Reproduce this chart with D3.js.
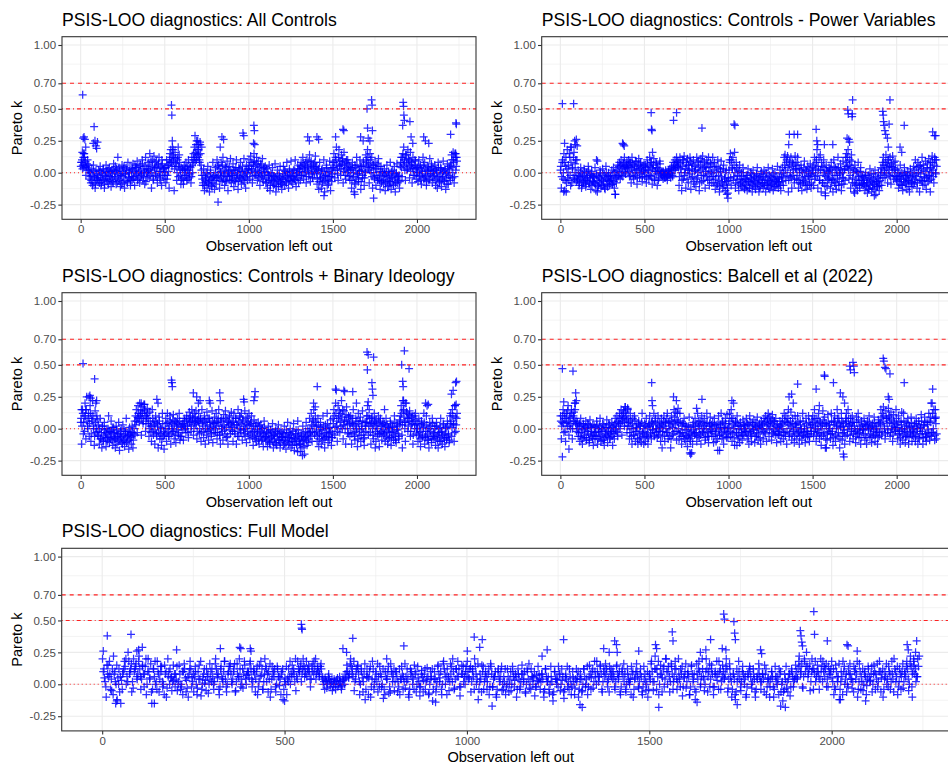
<!DOCTYPE html>
<html><head><meta charset="utf-8">
<script src="https://cdn.jsdelivr.net/npm/d3@7"></script>
<style>
body{margin:0;background:#fff}
svg{display:block}
text{font-family:"Liberation Sans",Arial,Helvetica,sans-serif}
</style>
</head><body>
<svg id="chart" width="948" height="768"></svg>
<script>
// ---------- axis / tick data ----------
const xTicks = [0, 500, 1000, 1500, 2000];
const xTickLabels = ["0", "500", "1000", "1500", "2000"];
const xMinor = [250, 750, 1250, 1750, 2250];
const yTicks = [-0.25, 0, 0.25, 0.5, 0.7, 1.0];
const yTickLabels = ["-0.25", "0.00", "0.25", "0.50", "0.70", "1.00"];
const yMinor = [-0.125, 0.125, 0.375, 0.6, 0.85];
const refValues = [0.7, 0.5, 0];
const xDomain = [-111, 2351];
const yDomain = [-0.365, 1.065];
const obsStep = 5;   // band series hold every 5th observation
const obsStartA = 1; // series A: observations 1, 6, 11, ...
const obsStartB = 3; // series B: observations 3, 8, 13, ...
const obsStartC = 5; // series C: observations 5, 10, 15, ...

const titles = [
  "PSIS-LOO diagnostics: All Controls",
  "PSIS-LOO diagnostics: Controls - Power Variables",
  "PSIS-LOO diagnostics: Controls + Binary Ideology",
  "PSIS-LOO diagnostics: Balcell et al (2022)",
  "PSIS-LOO diagnostics: Full Model"
];

// ---------- Pareto k band values (x100) ----------
const kAllControlsA = [
 5,8,3,12,15,6,-2,4,10,2,-5,0,-8,3,-10,6,-3,-12,2,-6,
 -4,2,-8,5,-10,0,-6,3,-12,-2,6,-5,1,-9,4,-3,-11,2,-7,7,
 -3,5,-9,1,12,-6,2,-11,-2,6,-8,3,-12,-1,4,-7,8,-4,0,-10,
 2,-6,7,-3,-10,4,-1,9,-5,1,-8,6,-2,10,-6,3,-9,12,0,-4,
 8,-3,15,2,-12,10,-6,13,4,-2,9,-8,6,12,-4,1,-10,7,3,-5,
 4,-8,10,-2,6,-12,15,18,8,20,12,-14,16,5,-6,10,-3,14,2,-9,
 -5,3,-9,6,-2,8,-6,2,10,-4,5,-8,12,0,15,20,8,22,14,25,
 18,10,22,6,-2,-10,3,-14,-6,0,-12,5,-8,-15,2,-5,-11,8,-3,-13,
 4,-9,10,-4,6,-12,0,8,-7,12,-2,-10,5,-6,9,-14,1,-3,11,-8,
 -5,7,-11,2,-7,10,-2,-13,4,-4,8,-9,1,-6,11,-3,-12,6,-1,3,
 10,-5,13,2,-8,8,15,-2,5,12,-6,9,0,-10,7,-3,11,-7,4,1,
 -8,3,-12,-2,6,-14,0,-6,4,-10,-3,7,-15,-5,2,-11,-1,5,-9,-13,
 -4,5,-10,1,-7,8,-2,-12,3,-6,9,-3,-9,2,-5,10,-11,0,6,-8,
 3,-6,8,-2,12,-5,6,1,-8,10,4,-3,14,-7,9,0,-4,7,-1,13,
 5,-9,2,-13,8,-4,-12,3,-7,10,-15,-2,6,-10,1,-6,9,-14,-3,4,
 8,15,-4,12,20,2,-6,18,6,-2,14,9,-8,16,3,-5,10,0,7,-3,
 -6,4,-12,8,-3,-15,6,-9,12,-1,-7,2,10,-13,5,-4,9,-10,1,14,
 10,18,4,-8,15,0,12,-12,6,-4,8,-10,3,-6,11,-2,-13,5,-7,1,
 -9,3,-14,-2,6,-11,1,-7,8,-13,-4,2,-10,5,-15,-1,7,-8,-3,-12,
 5,12,-3,15,20,8,-6,14,2,18,10,-4,16,6,-8,12,3,-2,9,-5,
 4,-7,10,-2,6,-9,1,12,-5,8,-3,-10,5,2,-6,11,-1,7,-8,3,
 -5,6,-10,2,-12,8,-3,-7,4,-11,0,9,-6,3,-13,-1,7,-9,5,-4,
 6,14,-4,10,-8,15,2,12
];
const kAllControlsB = [
 8,10,6,4,12,9,5,7,2,6,0,-3,-6,-2,-8,1,-4,-9,-1,-5,
 -2,-6,1,-4,-8,-1,2,-5,-9,-3,0,-7,3,-2,-6,1,-5,-1,-8,2,
 0,-4,3,-7,-1,4,-5,-2,-9,1,-3,5,-6,-1,2,-8,0,-4,3,-6,
 -3,3,-5,1,6,-2,4,-6,0,5,-4,2,-1,7,-3,0,5,-7,3,1,
 2,6,-2,9,0,5,-5,3,8,-1,4,-3,7,1,-6,5,10,-2,3,0,
 -2,4,-5,6,1,10,8,12,5,14,9,3,11,7,0,12,5,8,-2,4,
 -4,2,-6,0,3,-2,5,-5,2,-1,4,-3,6,8,10,12,16,10,18,12,
 14,8,15,2,-5,-8,-2,-10,-4,-7,-1,-9,-3,-6,0,-10,-4,-8,-2,-6,
 0,-4,5,-2,3,-6,1,-3,6,-5,2,-1,-7,4,-3,0,5,-6,2,-2,
 -2,2,-6,-1,4,-4,0,-7,3,-3,1,-5,5,-2,-8,2,-4,0,-6,3,
 5,0,8,3,-3,6,9,1,-2,7,2,-4,4,-1,6,0,-5,3,-2,5,
 -4,-8,0,-6,-2,-10,-5,-1,-7,-3,-9,-4,-11,-2,-6,-8,-3,-7,-5,-9,
 -1,-5,2,-3,-8,0,-4,-6,1,-2,-7,0,-3,-5,2,-6,-1,-4,3,-2,
 1,5,-2,4,7,0,3,8,-3,5,2,9,-1,6,3,-4,5,1,8,4,
 0,-5,3,-7,-1,-4,2,-8,-3,1,-6,-2,4,-5,-9,0,-3,3,-7,-1,
 4,8,2,10,6,-1,12,5,9,3,7,11,1,6,-2,8,4,10,2,5,
 -2,2,-6,3,0,-8,4,-4,6,-1,-5,1,5,-7,2,-2,6,-4,0,8,
 5,12,7,2,10,4,-3,6,0,-5,3,-2,7,-4,5,-6,1,-8,0,-3,
 -5,-1,-8,0,-6,-3,-10,-2,-7,1,-4,-9,-1,-5,-8,0,-3,-6,-2,-7,
 8,4,12,6,10,2,14,7,3,11,5,9,1,8,4,-2,6,10,3,0,
 0,5,-3,4,-6,2,-1,6,-4,3,-2,-7,1,4,-5,2,-1,5,-3,1,
 -2,2,-6,0,-4,4,-8,-1,3,-5,-3,1,-7,2,-4,-9,0,-2,3,-6,
 4,10,0,8,-3,12,5,9
];
const highAllControls = [
 [12,0.61],[15,0.27],[20,0.28],[25,0.26],[10,0.16],[18,0.15],[30,0.2],
 [80,0.36],[75,0.23],[85,0.25],[90,0.21],[95,0.19],[100,0.24],
 [540,0.53],[542,0.45],[545,0.25],[550,0.18],[580,0.2],
 [680,0.29],[690,0.25],[700,0.22],[710,0.24],[720,0.2],
 [817,-0.23],[830,0.2],[840,0.28],[850,0.26],[965,0.31],[970,0.29],
 [1030,0.37],[1033,0.33],[1028,0.23],[1035,0.22],
 [1350,0.28],[1360,0.25],[1405,0.28],[1415,0.26],[1447,-0.18],
 [1516,0.28],[1560,0.34],[1565,0.33],[1630,-0.17],[1665,0.28],[1680,0.25],
 [1703,0.5],[1706,0.35],[1730,0.57],[1733,0.53],[1735,0.33],[1710,0.27],[1720,0.25],[1742,-0.2],
 [1918,0.55],[1920,0.52],[1922,0.45],[1925,0.41],[1915,0.37],[1958,0.4],[1965,0.28],[1975,0.23],
 [2040,0.28],[2050,0.25],[2070,0.23],[2200,0.3],[2232,0.39],[2234,0.38],[2215,0.16],[2230,0.15]
];

const kPowerVarsA = [
 2,-12,8,-5,15,-14,5,-8,18,0,-6,12,-10,20,3,-4,16,-2,10,-7,
 -5,2,-10,-3,4,-12,-1,-8,3,-6,-11,0,-4,5,-9,-2,-13,1,-7,-3,
 -8,4,-14,-2,9,-10,-4,2,-12,-6,3,-9,-1,-13,5,-5,-11,0,-7,-3,
 -6,2,-9,4,-12,-17,1,-4,6,-2,8,-5,10,3,-3,7,12,0,5,9,
 4,10,-3,8,-8,12,2,-5,6,-2,9,-9,3,11,-4,7,0,-7,5,1,
 -3,6,-8,10,2,-5,12,-2,8,-9,4,11,-6,1,7,-10,3,-4,9,-1,
 -2,1,-5,0,-4,2,-3,-6,1,-1,3,-4,5,-2,8,2,10,4,12,6,
 8,-10,12,3,-14,10,-5,13,0,-12,6,11,-8,2,12,-13,7,-3,10,-9,
 5,-11,12,-4,9,-14,2,11,-7,13,-2,8,-12,4,10,-6,12,-10,1,7,
 -8,12,-3,8,-13,5,-10,10,-2,-15,3,9,-7,-12,6,-4,-14,2,-9,-16,
 -6,10,15,-10,4,12,-3,16,-12,8,-5,2,-14,6,-8,0,-11,4,-6,-13,
 -9,-2,-14,3,-7,-12,0,-5,-15,2,-10,-4,-13,-1,4,-8,-15,-3,-11,1,
 -4,-12,2,-8,-15,-1,-10,4,-6,-13,-3,-9,3,-14,-5,0,-11,-7,5,-12,
 -8,2,-14,-4,4,-10,12,14,-6,10,13,-15,6,-3,12,-12,8,2,-8,13,
 8,-5,12,-12,3,-8,6,-14,0,-6,9,-10,2,-13,5,-3,-9,7,-12,-1,
 4,-10,12,-3,8,18,-12,2,-6,14,-15,5,-8,10,-2,-16,6,-11,1,-5,
 2,-12,8,-5,-15,10,-8,4,-13,-2,12,-10,0,7,-14,-4,9,-9,3,12,
 15,5,18,-5,10,-12,14,-8,3,-15,6,-10,1,-14,8,-6,-12,4,-9,-3,
 -10,-4,-14,0,-8,-16,-2,-12,3,-6,-15,-9,-1,-13,2,-17,-7,-11,0,-14,
 -6,4,-10,8,12,0,-4,14,6,-8,10,-2,12,-9,5,13,-5,2,9,-3,
 -7,2,-12,-3,6,-10,0,-14,-5,4,-9,-2,-13,1,-6,-15,3,-8,-11,-1,
 5,-8,10,-3,-12,8,0,-15,6,-6,12,-10,2,-4,9,-13,4,-7,11,-2,
 8,-5,13,2,-8,12,0,10
];
const kPowerVarsB = [
 5,-3,10,0,8,-6,12,3,-4,6,15,-2,8,-8,4,12,-5,7,0,10,
 -6,-2,-8,0,-4,-10,-3,-7,1,-5,-9,-2,-6,2,-8,-4,-1,-10,-3,-7,
 -4,-9,-1,-6,-11,-3,-8,0,-5,-10,-2,-7,-12,-4,0,-9,-3,-6,-10,-2,
 -5,-9,-2,-7,0,-4,-8,2,-3,5,0,6,-2,4,8,1,5,-1,6,3,
 6,1,8,-2,4,7,-3,5,0,9,2,-4,6,3,-1,8,4,-3,2,6,
 0,4,-4,7,2,-2,5,8,-3,3,6,-5,1,8,-1,4,-6,2,7,0,
 0,-3,1,-2,-4,0,-1,-3,2,-2,0,-1,3,-3,4,6,2,8,5,9,
 4,-3,7,0,-6,5,10,-2,3,8,-5,2,6,-1,9,-4,3,6,-7,1,
 2,-5,8,0,4,-8,6,-2,9,3,-6,5,1,-3,7,-1,4,-5,8,0,
 -3,5,-8,2,-5,0,-9,4,-6,-11,1,-3,-8,3,-10,-5,0,-7,-12,-4,
 2,8,-4,10,3,-6,6,0,-8,4,-2,-9,1,-5,-10,-3,-7,0,-12,-5,
 -5,-10,-2,-7,-12,-4,-8,-1,-9,-6,-3,-11,-7,-2,-9,-5,-12,-6,-1,-8,
 -8,-3,-10,-5,0,-9,-6,-12,-2,-7,-10,-4,-8,-1,-11,-6,-3,-9,-5,-7,
 -4,-10,-1,-7,-3,0,6,2,8,-2,4,-6,9,0,-4,5,-2,7,-5,3,
 3,-2,6,-6,0,-9,2,-4,-8,4,-3,-7,1,-10,-2,3,-5,-1,-8,2,
 0,6,-5,3,10,-2,5,12,-6,2,8,-8,0,4,-10,-3,2,-6,-1,4,
 -4,3,-8,0,-6,5,-2,-10,2,-5,4,-7,-1,3,-9,0,-4,2,-6,5,
 8,12,2,6,-2,4,9,-4,0,-8,2,-5,-9,0,-3,-10,1,-6,-2,-8,
 -6,-9,-2,-11,-5,-8,-13,-4,-10,-1,-7,-12,-5,-9,-3,-8,-11,-4,-7,-10,
 -2,0,3,-4,6,2,8,-1,4,10,2,5,-3,7,0,4,8,-2,3,-5,
 -3,-6,0,-9,-2,-5,-10,-1,-7,0,-4,-8,-2,-6,-11,-3,0,-7,-4,-9,
 -2,2,-5,4,-8,0,5,-6,-1,3,-7,6,-3,-9,1,-4,7,-2,-6,3,
 4,0,8,-3,6,10,-1,5
];
const highPowerVars = [
 [12,0.54],[79,0.54],[25,0.23],[85,0.25],[90,0.22],[95,0.26],[100,0.21],[60,0.2],[20,-0.15],[35,-0.15],
 [220,-0.15],[215,0.1],[327,-0.17],[370,0.23],[375,0.22],[380,0.21],
 [540,0.47],[542,0.34],[545,0.33],[548,0.16],[673,0.41],[691,0.47],[842,0.35],
 [996,-0.2],[990,-0.17],[1033,0.38],[1038,0.37],[1362,0.3],[1358,0.22],[1411,0.3],[1390,0.3],
 [1521,0.34],[1525,0.25],[1530,0.22],[1570,0.22],[1576,-0.18],[1620,0.22],
 [1709,0.49],[1712,0.46],[1738,0.57],[1735,0.44],[1736,0.46],[1705,0.27],[1715,0.26],[1720,0.24],[1750,-0.16],
 [1867,-0.18],[1917,0.48],[1920,0.45],[1922,0.4],[1925,0.37],[1930,0.33],[1935,0.3],[1945,0.27],[1950,0.2],
 [1960,0.57],[1955,0.38],[2020,0.2],[2030,0.16],[2045,0.37],[2214,0.32],[2225,0.29],[2232,0.29],[2200,-0.15]
];

const kBinaryIdeoA = [
 5,-12,15,-4,10,20,-8,25,2,12,-6,18,-10,8,22,0,-13,14,-3,10,
 -5,3,-12,8,-8,-15,2,-10,5,-3,-14,0,-7,10,-11,-2,6,-9,-13,1,
 -8,-15,2,-12,-4,5,-17,-6,0,-11,3,-9,-14,-2,8,-10,-5,-16,1,-7,
 -12,2,-15,-4,6,10,15,-3,18,8,20,12,-5,17,4,19,14,-2,10,16,
 8,-6,13,2,-10,15,-2,6,-12,10,-4,4,-15,9,-8,1,-13,12,-6,-16,
 -4,8,-10,12,0,-6,10,-12,4,-2,11,-8,6,-11,2,8,-5,12,-9,3,
 -6,4,-9,8,0,-3,10,2,-7,13,6,-2,15,9,-5,12,3,14,-8,7,
 12,-4,8,-10,15,2,-7,10,-12,5,13,-2,-9,8,0,-6,14,-11,4,9,
 -3,12,-8,5,15,-5,-12,8,2,-9,11,-1,14,-7,6,-12,3,10,-4,13,
 5,-10,12,-2,8,-12,3,15,-6,10,-1,12,-9,6,-4,14,0,-11,9,-5,
 12,-8,4,10,-3,-13,7,-6,2,-10,-2,5,-12,-4,3,-9,0,-14,6,-7,
 -10,-3,-14,2,-8,-12,-1,-6,4,-15,-5,-11,0,-13,-4,3,-9,-15,-2,-7,
 -6,-13,2,-9,-16,-3,5,-12,-7,0,-15,-4,-10,4,-17,-8,-1,-13,6,-5,
 -12,-18,-4,-15,2,-9,-20,-6,5,-13,0,-8,8,-3,12,-10,6,15,-5,10,
 2,-10,8,-14,-4,5,-12,-1,10,-8,-15,3,-6,12,-11,0,-3,7,-13,-7,
 8,15,-5,20,2,-10,18,10,-3,12,22,0,-8,14,6,-12,17,3,-4,9,
 -6,10,-12,4,15,-3,-9,8,0,-14,12,-5,6,-10,2,14,-8,-13,5,-2,
 10,18,-5,15,4,-12,8,0,-8,12,5,-10,2,-4,10,-14,6,-2,-9,3,
 -5,4,-10,8,-2,-12,1,-7,6,-13,-3,2,-9,10,-6,-11,4,-1,-8,7,
 10,18,-5,22,15,5,-10,20,12,-2,8,14,-6,3,10,-12,6,0,12,-4,
 4,-10,8,-3,-14,6,-7,2,12,-12,-5,10,-9,0,-15,5,-2,-11,8,-6,
 -8,2,-13,5,-5,-15,0,-10,8,-3,-12,4,-7,-14,1,-9,6,-4,-11,10,
 12,-6,15,3,-10,18,-2,8
];
const kBinaryIdeoB = [
 8,2,12,5,-2,10,15,6,0,8,4,12,-4,6,10,2,-6,5,0,7,
 -2,-6,0,-8,-3,2,-9,-5,-1,-7,-4,-10,0,-6,-2,-8,-3,1,-7,-4,
 -3,-8,-1,-6,-10,-4,-9,-2,-7,-12,-5,-1,-8,-4,-11,-6,-2,-9,-5,-3,
 -6,-3,-9,0,-5,3,6,9,12,5,10,14,8,12,6,15,10,4,8,12,
 4,0,6,-3,2,8,-5,3,-1,5,-6,2,-3,6,-4,0,-8,4,-2,-5,
 0,4,-3,5,-6,2,6,-4,0,7,-2,3,-5,5,-1,4,-3,6,-6,1,
 2,-1,4,6,0,8,3,-3,7,5,10,2,6,8,0,5,9,4,-2,6,
 5,0,8,-3,4,6,-2,7,0,-5,3,8,-1,5,2,-4,6,1,-3,4,
 0,5,-3,8,2,-5,6,0,-2,7,3,-4,8,1,-6,5,9,-1,4,2,
 -2,6,1,-4,8,3,-6,5,0,9,-3,4,7,-1,2,-6,8,3,-2,5,
 3,-4,6,0,-7,2,-2,-8,4,-5,-1,-9,2,-6,-3,0,-8,-4,1,-6,
 -6,-2,-9,-4,-11,-1,-7,-3,-10,-5,-8,-2,-12,-6,-1,-9,-4,-11,-7,-3,
 -9,-4,-12,-6,-1,-10,-7,-3,-11,-5,-8,-13,-2,-7,-10,-4,-12,-6,-1,-9,
 -8,-12,-6,-10,-3,-14,-7,-2,-9,-5,-11,-4,0,-6,3,-2,7,2,-3,5,
 -2,-6,3,-8,-1,1,-5,-9,2,-4,-7,0,-3,4,-6,-9,1,-2,-7,-4,
 4,10,1,12,6,-2,8,14,5,2,9,15,3,7,0,11,6,-3,10,4,
 0,5,-4,8,2,-6,3,-2,6,-8,4,-1,9,-5,0,6,-3,-7,2,5,
 5,10,2,8,-3,4,9,-5,3,6,-2,7,0,-6,4,-4,8,2,-3,5,
 -1,-4,2,-6,3,-8,0,-3,4,-7,1,-5,-2,5,-9,-1,2,-4,-6,3,
 6,12,3,14,9,0,5,13,8,2,11,6,-2,9,4,-5,10,3,7,0,
 0,-5,3,-8,-2,4,-6,1,5,-7,-2,3,-4,-9,0,-6,2,-8,4,-3,
 -4,0,-7,2,-9,-3,-6,1,-10,-2,-5,3,-8,-4,0,-7,2,-5,-9,4,
 6,1,10,4,-3,9,3,12
];
const highBinaryIdeo = [
 [14,0.51],[83,0.39],[50,0.25],[55,0.26],[60,0.24],[5,0.15],[30,0.15],[90,0.2],[95,0.22],
 [360,0.2],[380,0.19],[453,0.23],[460,0.2],[540,0.38],[543,0.36],[545,0.33],
 [670,0.28],[690,0.25],[700,0.2],[710,0.22],[765,0.22],[770,0.2],[827,0.28],[830,0.22],
 [969,0.23],[972,0.21],[1037,0.29],[1035,0.25],[1030,0.22],[1319,-0.21],[1290,-0.18],
 [1407,0.33],[1385,0.2],[1395,0.17],[1516,0.31],[1520,0.3],[1565,0.3],[1570,0.29],[1618,0.29],[1640,0.2],
 [1703,0.6],[1710,0.58],[1742,0.56],[1705,0.46],[1732,0.36],[1735,0.31],[1738,0.26],[1710,0.21],[1752,-0.15],
 [1807,0.15],[1925,0.61],[1909,0.5],[1953,0.47],[1915,0.37],[1918,0.33],[1920,0.22],[1930,0.2],[1913,-0.15],
 [2051,0.2],[2067,0.19],[2060,0.18],[2205,0.27],[2215,0.3],[2230,0.36],[2235,0.37],[2225,0.18],[2233,0.19]
];

const kBalcellA = [
 10,-8,5,15,-3,8,-10,12,2,18,-5,10,0,15,-8,6,13,20,4,-2,
 5,-6,2,-10,8,-3,-12,4,-7,0,6,-9,-2,3,-11,7,-5,1,-8,-13,
 2,-8,-3,6,-12,0,-6,8,-10,-2,4,-9,-13,1,-5,7,-11,-3,3,-7,
 -4,5,-13,2,-8,8,-2,10,-6,4,12,0,15,-5,8,14,2,17,10,-3,
 15,5,-8,12,0,-12,8,-5,10,-10,3,-2,-12,6,-8,2,-11,12,-4,-12,
 4,-10,8,-6,-12,2,10,-3,-8,6,-1,12,-5,8,0,-7,10,-2,5,-10,
 8,-6,2,10,-10,5,-3,12,-8,0,6,-15,10,-5,4,15,-2,13,-9,12,
 6,-8,12,-3,-12,4,-6,8,-1,-10,2,-14,-5,9,-8,1,-19,-12,5,-3,
 8,-4,-10,12,2,-7,6,-12,10,-3,0,8,-9,4,12,-6,-11,2,9,-2,
 -6,5,-11,8,-2,-10,3,-17,10,-5,1,12,-8,6,-12,0,8,-4,11,-7,
 4,12,-6,15,-10,8,0,-13,6,-3,10,-8,2,-11,5,-1,-9,7,-5,3,
 -2,8,-8,3,-12,10,-4,-10,5,-1,7,-11,2,-6,9,-9,0,4,-12,6,
 0,-8,8,-3,10,-10,4,12,-6,9,2,-9,11,-4,6,-2,8,-11,3,-5,
 -5,6,-10,2,8,-8,12,-3,10,-12,5,15,-6,0,13,-9,8,-2,-11,10,
 4,-8,10,-3,-12,6,0,-9,12,-5,2,-11,8,-2,-6,10,-10,3,-4,7,
 10,-6,15,2,-10,8,-3,12,-8,5,-13,0,14,-5,9,-15,4,-9,11,-2,
 3,-8,12,-4,-13,6,10,-10,0,15,-6,8,-15,2,12,-9,5,-3,-12,8,
 12,-5,15,3,-10,8,-2,10,-8,5,0,-11,9,-4,12,-7,2,-12,6,-1,
 -4,8,-9,3,-12,6,-1,10,-7,0,-11,4,-5,9,-10,2,-3,-12,7,-6,
 5,15,-5,12,17,2,-8,14,8,-3,16,10,-6,13,0,-10,11,4,-2,15,
 3,-8,10,-4,-12,6,0,-9,12,-2,-11,5,-6,8,-12,2,-4,9,-10,-1,
 -6,4,-10,8,-2,-12,6,-8,0,11,-4,-12,3,9,-7,-10,5,-3,12,-9,
 9,-6,20,-3,15,-9,8,-8
];
const kBalcellB = [
 6,2,10,4,12,-2,8,5,14,6,2,9,4,12,0,10,8,15,6,3,
 0,-3,4,-6,2,-8,-1,3,-5,1,-7,0,4,-4,-9,2,-2,-6,3,-5,
 -3,1,-6,3,-8,-2,2,-5,0,-9,-1,3,-7,-4,1,-6,-2,4,-8,0,
 -2,-6,1,-4,3,-1,5,-3,6,2,8,4,10,6,12,9,5,13,7,2,
 8,2,-3,6,-6,4,0,-5,7,-2,1,-8,4,-4,2,-7,5,-3,0,-6,
 -2,3,-5,1,-7,4,2,-4,5,-1,3,-6,6,0,-3,4,-5,2,-2,1,
 3,-2,6,-5,4,0,8,-3,5,-6,2,-8,6,1,-4,9,3,7,-2,5,
 0,-4,5,-6,2,-3,4,-8,3,-5,-1,-7,2,-4,-10,-2,-6,3,-1,-5,
 2,-3,4,-6,6,0,-5,3,-2,5,-4,2,-7,0,5,-3,-6,4,-1,3,
 -2,2,-6,3,-4,0,-8,4,-1,-5,3,-3,5,-6,1,-2,4,-7,0,-3,
 1,6,-2,8,-4,3,-7,2,5,-3,4,-5,0,-6,2,-3,-5,3,0,-2,
 2,-3,4,-6,0,5,-2,-5,3,-1,2,-6,5,-3,1,-4,3,-7,0,2,
 3,-2,5,-4,6,0,8,3,-1,5,7,-3,4,0,6,-5,2,-4,1,-2,
 -1,3,-5,4,0,-3,6,-6,5,-2,8,3,-4,6,2,-5,4,-1,-6,3,
 1,-4,5,-2,-6,3,-1,-5,6,-3,0,-7,4,-2,-4,5,-6,1,-2,3,
 5,-2,8,0,-5,4,-1,6,-4,2,-6,3,7,-3,4,-8,2,-4,5,0,
 0,-4,6,-2,-7,3,5,-5,2,8,-3,4,-8,1,6,-4,2,-1,-6,4,
 6,-1,8,2,-5,4,0,5,-4,2,-2,-6,5,-1,7,-3,0,-7,3,0,
 -1,4,-5,2,-7,3,0,5,-4,1,-6,2,-2,5,-5,0,-1,-7,4,-3,
 3,9,-2,6,10,0,-4,8,4,-1,9,5,-3,7,2,-5,6,1,-1,8,
 1,-4,5,-2,-7,3,-1,-5,6,0,-6,2,-3,4,-7,1,-2,5,-5,0,
 -3,2,-6,4,0,-7,3,-4,1,6,-2,-7,2,5,-4,-6,3,-1,6,-5,
 5,-3,12,0,8,-5,4,-4
];
const highBalcell = [
 [12,0.47],[75,0.45],[12,-0.22],[51,-0.16],[91,0.28],[95,0.22],[88,0.2],[20,0.21],
 [385,0.17],[400,0.16],[543,0.36],[545,0.22],[548,0.18],[605,-0.15],[673,0.25],[690,0.22],[700,0.16],
 [770,-0.19],[775,-0.2],[810,0.16],[842,0.23],[947,-0.17],[1020,0.22],[1030,0.2],[1050,-0.13],
 [1360,0.25],[1375,0.27],[1385,0.2],[1411,0.35],[1521,0.31],[1540,0.18],[1570,0.42],[1572,0.41],[1624,0.36],
 [1582,-0.15],[1665,0.28],[1680,0.25],[1690,0.2],[1683,-0.2],[1686,-0.22],
 [1721,0.49],[1725,0.46],[1740,0.52],[1745,0.49],[1748,0.44],
 [1920,0.55],[1924,0.53],[1930,0.48],[1936,0.47],[1960,0.43],[1950,0.25],[1955,0.23],
 [2045,0.36],[2030,0.13],[2214,0.31],[2205,0.2],[2230,0.15],[2233,0.09]
];

const kFullModelA = [
 20,5,-10,15,8,-5,22,2,-12,12,-15,8,18,0,25,10,-6,20,14,4,
 22,-4,15,8,-8,20,5,-15,12,0,18,-6,10,-2,15,-10,6,12,-5,3,
 8,-5,15,0,-8,12,3,-10,18,5,-6,10,-3,15,-9,6,1,12,-7,4,
 12,-4,20,5,-8,14,2,18,-6,10,16,0,12,-5,8,20,4,-3,15,7,
 10,18,-2,12,4,-8,15,7,-4,20,2,10,-10,14,6,-6,12,-1,8,-12,
 5,-8,12,0,15,8,-5,18,10,2,20,12,6,15,-2,10,18,4,14,8,
 12,0,5,-3,8,2,-5,4,0,-2,6,-4,3,8,15,5,20,12,-5,10,
 15,-8,10,2,-12,12,5,-10,18,0,8,-6,14,-2,-11,10,4,-7,16,2,
 -5,10,2,-8,14,6,-3,12,-10,8,0,15,-6,5,-9,11,3,-4,13,-7,
 4,-13,10,-2,15,5,-8,18,0,12,-5,8,20,-3,12,6,-9,15,2,10,
 18,5,-6,12,20,0,-12,8,15,-4,10,2,-8,14,-2,6,-10,12,4,-5,
 6,-8,12,0,-5,10,3,-10,8,-2,15,4,-7,10,-3,12,0,-9,7,2,
 -4,8,-10,12,2,-7,6,-13,10,0,14,-5,3,-11,8,-2,12,-8,5,-3,
 2,-10,8,-5,12,0,-8,15,5,-3,10,18,2,15,-6,12,8,-2,14,6,
 10,-4,15,6,-8,12,2,-6,8,0,14,-10,5,10,-3,12,-8,4,-5,-10,
 8,18,-5,22,12,-8,15,5,-2,20,10,-6,14,2,18,-4,8,12,-9,5,
 -3,10,-8,15,4,-12,8,18,0,12,-5,20,6,-2,15,-8,10,3,18,-4,
 15,5,20,-3,12,-10,8,-12,2,10,-5,14,0,-8,6,12,-3,8,-10,4,
 12,-4,8,15,-8,5,-2,10,-10,6,0,12,-6,-13,8,-3,4,-9,10,2,
 15,5,22,10,-3,18,25,8,-5,20,12,2,15,-4,10,18,6,-2,14,8,
 5,-8,15,2,-12,10,18,0,-6,12,8,-3,14,4,-10,16,6,-5,10,-1,
 12,3,-6,15,8,-2,18,5,-10,10,0,14,-4,8,20,2,-8,12,6,-3,
 10,18,-5,22,8,15,2,20
];
const kFullModelB = [
 10,2,15,6,-4,12,8,0,5,-6,3,10,14,6,18,12,2,10,16,8,
 12,4,8,14,0,10,16,-4,6,2,10,4,14,0,8,-3,10,5,2,8,
 4,0,8,-2,10,5,-3,8,12,2,6,0,10,4,-4,8,3,6,0,10,
 6,2,12,8,-2,6,10,4,0,14,8,4,16,2,6,12,0,8,4,10,
 5,12,2,8,10,-2,6,12,2,14,8,4,-4,8,12,0,6,4,10,-4,
 0,4,6,8,10,2,6,12,14,8,14,8,12,10,4,16,12,8,10,14,
 6,2,3,0,4,1,-2,2,3,0,2,-1,4,5,10,8,14,6,2,12,
 8,0,5,8,-4,6,10,-2,12,4,2,6,8,0,-4,6,10,-2,10,6,
 2,6,-2,4,8,2,6,4,-4,10,4,8,0,2,-2,6,8,2,6,0,
 6,-4,4,2,8,10,0,12,6,4,2,14,10,4,6,12,-2,8,6,14,
 10,12,2,6,14,4,-4,4,10,2,6,8,-2,8,4,10,-4,6,10,0,
 2,-2,6,4,0,6,8,-4,4,2,8,10,0,4,2,6,5,-2,3,8,
 2,4,-4,6,6,0,2,-6,4,4,8,0,6,-4,4,2,6,-2,2,4,
 6,-4,4,0,6,4,-2,8,10,2,6,10,6,8,2,6,12,4,8,10,
 6,2,8,10,-2,6,8,0,4,4,8,-4,10,6,2,6,-2,8,0,-4,
 4,10,2,12,6,0,8,12,4,10,14,2,8,6,12,2,4,8,-2,10,
 2,6,-2,8,8,-6,4,10,6,6,0,12,10,4,8,-2,6,8,10,2,
 10,8,12,4,6,-4,4,-6,6,4,2,8,6,-2,10,6,2,4,-4,8,
 6,2,4,8,-2,2,4,6,-4,2,4,8,0,-6,4,2,8,-2,6,4,
 10,12,14,16,6,10,14,12,2,12,8,6,10,4,14,10,12,4,8,12,
 2,-2,10,6,-4,6,10,4,0,8,4,2,10,8,-4,10,2,0,6,4,
 6,8,0,10,4,2,10,8,-4,6,4,10,2,4,12,6,-2,8,10,2,
 6,12,0,14,10,8,6,14
];
const kFullModelC = [
 12,-2,8,18,4,-8,10,15,0,6,-4,12,20,2,8,16,-3,12,6,18,
 6,14,-2,20,10,4,-6,12,18,-4,8,14,2,-8,10,20,0,6,15,-2,
 14,2,-4,10,16,-6,6,12,-2,8,14,-8,4,18,0,12,-5,8,16,2,
 0,16,8,-4,12,4,18,-2,8,14,2,10,-6,16,6,-2,12,18,0,8,
 16,4,10,-6,14,2,18,-4,8,12,-6,16,4,10,-2,14,6,-8,12,2,
 14,2,18,6,12,20,4,10,16,12,6,18,10,4,14,8,20,12,6,16,
 4,-4,2,6,-2,4,0,-4,5,2,-2,4,0,10,6,16,8,18,4,14,
 2,12,-6,16,6,-8,14,4,-4,10,16,-2,6,12,-8,4,14,-6,8,12,
 10,-6,12,4,-4,16,2,-8,12,6,-4,10,14,-2,8,-6,12,4,-8,10,
 12,4,-6,14,2,-4,16,8,-8,6,16,2,-4,12,18,-2,8,14,0,6,
 4,14,10,-4,8,16,2,-6,14,6,-4,12,16,-2,6,-8,10,2,14,-4,
 12,0,-6,10,14,-2,6,12,-4,8,2,-6,12,16,-4,6,10,-2,14,4,
 8,-6,12,2,-4,14,-8,10,4,-2,8,12,-6,6,14,-4,0,10,-8,12,
 10,4,-6,12,-2,14,6,-4,12,18,0,6,14,-4,10,16,2,-6,12,4,
 -2,14,4,-6,10,16,-4,12,2,-8,10,4,16,-2,8,-6,14,2,10,6,
 16,2,12,-4,18,8,-6,14,20,0,6,16,-4,12,4,20,-2,14,6,16,
 8,-8,14,2,-4,16,12,-2,20,4,10,-6,16,12,-2,8,18,-4,12,6,
 4,14,-6,16,2,8,-8,12,18,-2,10,4,-10,8,14,0,12,-6,6,16,
 2,8,-6,12,4,-10,10,-2,14,6,-8,10,2,-4,14,-6,8,12,-2,6,
 4,18,8,-2,20,14,6,16,10,-4,18,10,6,20,2,14,16,-2,10,18,
 12,-4,6,16,2,-8,14,8,-2,16,4,-6,12,18,2,-4,12,8,-8,14,
 2,14,8,-4,16,10,-6,12,4,16,-2,8,18,-6,10,14,2,-4,16,8,
 14,4,16,-2,18,12,6,22
];
const highFullModel = [
 [3,0.26],[14,0.38],[37,-0.15],[40,-0.13],[79,0.39],[110,0.29],[100,0.27],[95,0.26],[143,-0.15],[204,0.27],
 [324,0.28],[377,0.29],[380,0.28],[406,0.28],[408,0.26],[500,-0.13],[546,0.47],[547,0.44],[548,0.43],
 [687,0.36],[660,0.28],[670,0.25],[780,0.2],[827,0.3],[914,-0.14],[1001,0.26],[1020,0.37],[1042,0.35],[1035,0.29],
 [1069,-0.17],[1220,0.27],[1265,0.35],[1206,0.22],[1316,-0.18],[1310,-0.16],
 [1375,0.28],[1390,0.25],[1405,0.34],[1410,0.31],[1412,0.25],[1471,0.26],[1517,0.31],[1520,0.28],[1526,-0.18],
 [1563,0.41],[1565,0.34],[1631,-0.14],[1640,0.25],[1655,0.27],[1668,0.35],
 [1704,0.55],[1706,0.51],[1700,0.28],[1710,0.27],[1732,0.49],[1734,0.4],[1736,0.35],[1741,-0.16],
 [1805,0.27],[1808,0.24],[1860,-0.17],[1873,-0.18],[1914,0.42],[1916,0.38],[1918,0.33],[1920,0.3],
 [1951,0.57],[1953,0.39],[1988,0.34],[2024,-0.12],[2042,0.31],[2045,0.3],[2070,0.26],[2093,-0.13],
 [2207,0.31],[2210,0.27],[2233,0.34],[2230,0.25],[2225,0.2],[2221,-0.1]
];

const seriesA = [kAllControlsA, kPowerVarsA, kBinaryIdeoA, kBalcellA, kFullModelA];
const seriesB = [kAllControlsB, kPowerVarsB, kBinaryIdeoB, kBalcellB, kFullModelB];
const seriesC = [[], [], [], [], kFullModelC];
const seriesHigh = [highAllControls, highPowerVars, highBinaryIdeo, highBalcell, highFullModel];

// ---------- layout ----------
const boxes = [
  {l: 62,    t: 36.7,  w: 414, h: 182.6},
  {l: 541.7, t: 36.7,  w: 414, h: 182.6},
  {l: 62,    t: 292.7, w: 414, h: 182.6},
  {l: 541.7, t: 292.7, w: 414, h: 182.6},
  {l: 61.7,  t: 548.3, w: 898, h: 182.6}
];

const svg = d3.select("#chart");
svg.append("rect").attr("width", 948).attr("height", 768).attr("fill", "#fff");

function drawPanel(idx) {
  const b = boxes[idx];
  const x = d3.scaleLinear().domain(xDomain).range([b.l, b.l + b.w]);
  const y = d3.scaleLinear().domain(yDomain).range([b.t + b.h, b.t]);
  const g = svg.append("g");
  const clipId = "clip" + idx;
  svg.append("clipPath").attr("id", clipId).append("rect")
    .attr("x", b.l).attr("y", b.t).attr("width", b.w).attr("height", b.h);

  const inner = g.append("g").attr("clip-path", `url(#${clipId})`);
  inner.selectAll(".xm").data(xMinor).join("line")
    .attr("x1", d => x(d)).attr("x2", d => x(d)).attr("y1", b.t).attr("y2", b.t + b.h)
    .attr("stroke", "#ebebeb").attr("stroke-width", 0.6);
  inner.selectAll(".ym").data(yMinor).join("line")
    .attr("y1", d => y(d)).attr("y2", d => y(d)).attr("x1", b.l).attr("x2", b.l + b.w)
    .attr("stroke", "#ebebeb").attr("stroke-width", 0.6);
  inner.selectAll(".xg").data(xTicks).join("line")
    .attr("x1", d => x(d)).attr("x2", d => x(d)).attr("y1", b.t).attr("y2", b.t + b.h)
    .attr("stroke", "#ebebeb").attr("stroke-width", 1.1);
  inner.selectAll(".yg").data(yTicks).join("line")
    .attr("y1", d => y(d)).attr("y2", d => y(d)).attr("x1", b.l).attr("x2", b.l + b.w)
    .attr("stroke", "#ebebeb").attr("stroke-width", 1.1);

  const pts = seriesA[idx].map((v, i) => [obsStartA + i * obsStep, v / 100])
    .concat(seriesB[idx].map((v, i) => [obsStartB + i * obsStep, v / 100]))
    .concat(seriesC[idx].map((v, i) => [obsStartC + i * obsStep, v / 100]))
    .concat(seriesHigh[idx]);
  inner.append("g").selectAll("path").data(pts).join("path")
    .attr("d", "M-4,0H4M0,-4V4")
    .attr("transform", d => `translate(${x(d[0]).toFixed(2)},${y(d[1]).toFixed(2)})`)
    .attr("fill", "none").attr("stroke", "#0000ff").attr("stroke-opacity", 0.82).attr("stroke-width", 1.25);

  const dashes = ["4,4", "1,3,4,3", "1,3"];
  inner.selectAll(".ref").data(refValues).join("line")
    .attr("x1", b.l).attr("x2", b.l + b.w)
    .attr("y1", d => y(d)).attr("y2", d => y(d))
    .attr("stroke", "#ff2020").attr("stroke-width", 1.1)
    .attr("stroke-dasharray", (d, i) => dashes[i]);

  g.append("rect").attr("x", b.l).attr("y", b.t).attr("width", b.w).attr("height", b.h)
    .attr("fill", "none").attr("stroke", "#333333").attr("stroke-width", 1.1);

  const xa = d3.axisBottom(x).tickValues(xTicks).tickFormat((d, i) => xTickLabels[i])
    .tickSize(3.67).tickPadding(2.2);
  const gx = g.append("g").attr("transform", `translate(0,${b.t + b.h})`).call(xa);
  const ya = d3.axisLeft(y).tickValues(yTicks).tickFormat((d, i) => yTickLabels[i])
    .tickSize(3.67).tickPadding(2.2);
  const gy = g.append("g").attr("transform", `translate(${b.l},0)`).call(ya);
  [gx, gy].forEach(a => {
    a.select(".domain").remove();
    a.selectAll(".tick line").attr("stroke", "#333333").attr("stroke-width", 1.1);
    a.selectAll(".tick text").attr("fill", "#4d4d4d").style("font-size", "11.5px")
      .style("font-family", '"Liberation Sans",Arial,sans-serif');
  });

  g.append("text").attr("x", b.l).attr("y", b.t - 11)
    .attr("fill", "#000").style("font-size", "17.6px").text(titles[idx]);
  g.append("text").attr("x", b.l + b.w / 2)
    .attr("y", b.t + b.h + 31.5)
    .attr("text-anchor", "middle").attr("fill", "#000").style("font-size", "14.6px")
    .text("Observation left out");
  g.append("text")
    .attr("transform", `translate(${b.l - 45},${b.t + b.h / 2}) rotate(-90)`)
    .attr("dy", "0.35em").attr("text-anchor", "middle").attr("fill", "#000")
    .style("font-size", "14.6px").text("Pareto k");
}

for (let i = 0; i < 5; i++) drawPanel(i);
</script>
</body></html>
